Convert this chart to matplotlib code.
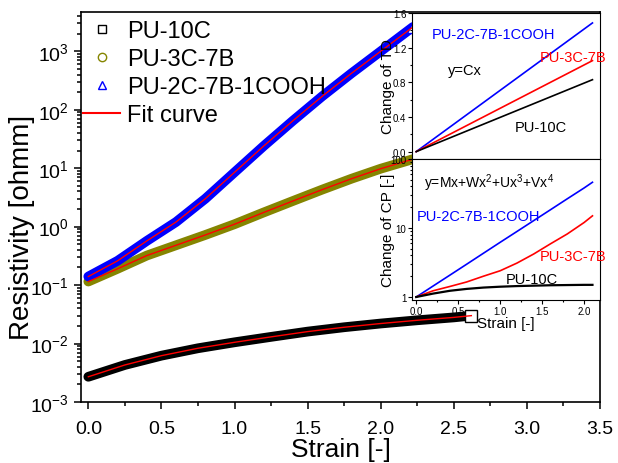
import matplotlib
matplotlib.use("Agg")
import matplotlib.pyplot as plt
from matplotlib.lines import Line2D
from matplotlib.ticker import MultipleLocator, LogLocator, NullFormatter

plt.rcParams['font.family'] = ['Liberation Sans', 'DejaVu Sans']
plt.rcParams['mathtext.default'] = 'regular'

# main data: resistivity vs strain
strain_10c = [0.0, 0.25, 0.5, 0.75, 1.0, 1.25, 1.5, 1.75, 2.0, 2.25, 2.5, 2.62]
res_10c = [0.0027, 0.0043, 0.0062, 0.0083, 0.0105, 0.013, 0.016, 0.019, 0.022, 0.025, 0.028, 0.030]

strain_3c = [0.0, 0.2, 0.4, 0.6, 0.8, 1.0, 1.2, 1.4, 1.6, 1.8, 2.0, 2.25]
res_3c = [0.115, 0.19, 0.32, 0.48, 0.72, 1.1, 1.75, 2.75, 4.3, 6.6, 9.8, 15.0]

strain_2c = [0.0, 0.2, 0.4, 0.6, 0.8, 1.0, 1.2, 1.4, 1.6, 1.8, 2.0, 2.22]
res_2c = [0.14, 0.26, 0.57, 1.2, 3.0, 8.5, 24.0, 65.0, 170.0, 420.0, 1000.0, 2600.0]

# inset data
inset_x = [0.0, 2.1]
tc_10c = [0.0, 0.83]
tc_3c = [0.0, 1.05]
tc_2c = [0.0, 1.485]

cp_x = [0.0, 0.2, 0.4, 0.6, 0.8, 1.0, 1.2, 1.4, 1.6, 1.8, 2.0, 2.1]
cp_10c = [1.0, 1.12, 1.23, 1.31, 1.37, 1.41, 1.44, 1.46, 1.48, 1.49, 1.5, 1.5]
cp_3c = [1.0, 1.23, 1.42, 1.65, 2.0, 2.4, 3.1, 4.2, 5.9, 8.2, 12.0, 15.0]
cp_2c = [1.0, 1.44, 2.07, 2.98, 4.3, 6.2, 8.9, 12.8, 18.4, 26.5, 38.0, 46.0]

olive = '#858500'

fig = plt.figure(figsize=(6.18, 4.64), dpi=100)
ax = fig.add_axes([0.1311, 0.1315, 0.8398, 0.8405])

series = [
    (strain_10c, res_10c, 'black', 's'),
    (strain_3c, res_3c, olive, 'o'),
    (strain_2c, res_2c, 'blue', '^'),
]
for xs, ys, c, m in series:
    ax.plot(xs, ys, color=c, lw=7, solid_capstyle='round', solid_joinstyle='round', zorder=2)
    ax.plot(xs[-1:], ys[-1:], ls='none', marker=m, ms=8, mfc='white', mec=c, mew=1, zorder=3)
    ax.plot(xs, ys, color='red', lw=1, zorder=4)

ax.set_yscale('log')
ax.set_xlim(-0.05, 3.5)
ax.set_ylim(1e-3, 4.7e3)
ax.xaxis.set_major_locator(MultipleLocator(0.5))
ax.xaxis.set_minor_locator(MultipleLocator(0.25))
ax.yaxis.set_minor_locator(LogLocator(base=10, subs=range(2, 10), numticks=20))
ax.yaxis.set_minor_formatter(NullFormatter())
ax.tick_params(which='both', direction='out', labelsize=14, width=1.1)
ax.tick_params(which='major', length=5)
ax.tick_params(which='minor', length=3)
ax.tick_params(axis='x', which='major', pad=8)
ax.tick_params(axis='y', which='major', pad=4)
for s in ax.spines.values():
    s.set_linewidth(1.2)
ax.set_xlabel('Strain [-]', fontsize=19, labelpad=0)
ax.set_ylabel('Resistivity [ohmm]', fontsize=20)
ax.yaxis.set_label_coords(-0.088, 0.45)

handles = [
    Line2D([], [], ls='none', marker='s', ms=6, mfc='none', mec='black'),
    Line2D([], [], ls='none', marker='o', ms=6, mfc='none', mec=olive),
    Line2D([], [], ls='none', marker='^', ms=6, mfc='none', mec='blue'),
    Line2D([], [], color='red', lw=1.5),
]
ax.legend(handles, ['PU-10C', 'PU-3C-7B', 'PU-2C-7B-1COOH', 'Fit curve'],
          loc='upper left', bbox_to_anchor=(0.0, 0.985), frameon=False,
          fontsize=17, handlelength=1.55, handletextpad=0.3, labelspacing=0.25,
          borderpad=0, borderaxespad=0.1)

# upper inset: linear fit
ins1 = fig.add_axes([0.6667, 0.6552, 0.3042, 0.3147])
ins1.plot(inset_x, tc_2c, color='blue', lw=1.2)
ins1.plot(inset_x, tc_3c, color='red', lw=1.2)
ins1.plot(inset_x, tc_10c, color='black', lw=1.2)
ins1.set_xlim(-0.05, 2.19)
ins1.set_ylim(-0.085, 1.6)
ins1.yaxis.set_major_locator(MultipleLocator(0.4))
ins1.yaxis.set_minor_locator(MultipleLocator(0.2))
ins1.xaxis.set_major_locator(MultipleLocator(0.5))
ins1.xaxis.set_minor_locator(MultipleLocator(0.25))
ins1.tick_params(which='both', direction='out', labelsize=7, width=0.8, pad=1)
ins1.tick_params(which='major', length=3)
ins1.tick_params(which='minor', length=1.5)
ins1.tick_params(axis='x', labelbottom=False)
ins1.set_ylabel('Change of TD', fontsize=11)
ins1.yaxis.set_label_coords(-0.09, 0.5)
ins1.text(0.106, 0.856, 'PU-2C-7B-1COOH', color='blue', fontsize=10.5, va='center', transform=ins1.transAxes)
ins1.text(0.68, 0.70, 'PU-3C-7B', color='red', fontsize=10.5, va='center', transform=ins1.transAxes)
ins1.text(0.19, 0.61, 'y=Cx', color='black', fontsize=10.5, va='center', transform=ins1.transAxes)
ins1.text(0.548, 0.22, 'PU-10C', color='black', fontsize=10.5, va='center', transform=ins1.transAxes)

# lower inset: polynomial fit
ins2 = fig.add_axes([0.6667, 0.3513, 0.3042, 0.3039])
ins2.plot(cp_x, cp_2c, color='blue', lw=1.2)
ins2.plot(cp_x, cp_3c, color='red', lw=1.2)
ins2.plot(cp_x, cp_10c, color='black', lw=1.6)
ins2.set_yscale('log')
ins2.set_xlim(-0.05, 2.19)
ins2.set_ylim(0.905, 100)
ins2.set_yticks([1, 10, 100])
ins2.set_yticklabels(['1', '10', '100'])
ins2.yaxis.set_minor_locator(LogLocator(base=10, subs=range(2, 10), numticks=20))
ins2.yaxis.set_minor_formatter(NullFormatter())
ins2.xaxis.set_major_locator(MultipleLocator(0.5))
ins2.xaxis.set_minor_locator(MultipleLocator(0.25))
ins2.tick_params(which='both', direction='out', labelsize=7, width=0.8, pad=1)
ins2.tick_params(which='major', length=3)
ins2.tick_params(which='minor', length=1.5)
ins2.set_ylabel('Change of CP [-]', fontsize=11)
ins2.yaxis.set_label_coords(-0.09, 0.5)
ins2.set_xlabel('Strain [-]', fontsize=11, labelpad=0)
ins2.text(0.064, 0.833, 'y=Mx+Wx$^2$+Ux$^3$+Vx$^4$', color='black', fontsize=10, va='center', transform=ins2.transAxes)
ins2.text(0.027, 0.596, 'PU-2C-7B-1COOH', color='blue', fontsize=10.5, va='center', transform=ins2.transAxes)
ins2.text(0.68, 0.312, 'PU-3C-7B', color='red', fontsize=10.5, va='center', transform=ins2.transAxes)
ins2.text(0.50, 0.152, 'PU-10C', color='black', fontsize=10.5, va='center', transform=ins2.transAxes)

fig.savefig('out.png', dpi=100)
